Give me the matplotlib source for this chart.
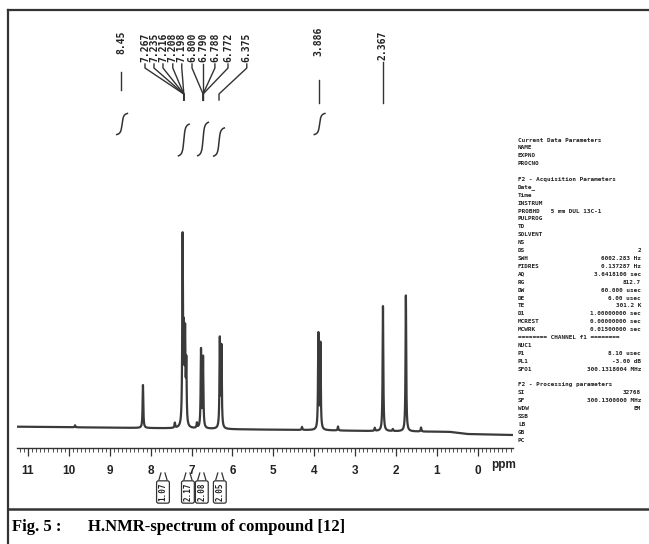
import numpy as np
import matplotlib
matplotlib.use("Agg")
import matplotlib.pyplot as plt
from matplotlib.lines import Line2D

W, H = 649, 544

# peaks: position on the printed ppm axis, height above baseline
peak_ppm = [9.85, 8.19, 7.41, 7.22, 7.19, 7.16, 7.13, 6.87, 6.77, 6.72,
            6.31, 6.27, 4.30, 3.90, 3.85, 3.42, 2.52, 2.32, 2.08, 1.76, 1.39]
peak_height = [2, 43, 5, 185, 82, 86, 60, 5, 78, 70,
               88, 80, 3, 95, 85, 4, 3, 125, 2, 136, 4]

# slow baseline drift of the scan
base_ppm = [11.27, 8.2, 6.0, 4.3, 2.7, 1.1, 0.7, 0.27, -0.86]
base_level = [1.3, 0, -1.3, -2, -3, -3.7, -3.8, -6, -7]

ppm_ticks = [11, 10, 9, 8, 7, 6, 5, 4, 3, 2, 1, 0]

# peak picking labels
shift_labels = ['7.267', '7.235', '7.216', '7.208', '7.198',
                '6.800', '6.790', '6.788', '6.772', '6.375']
shift_text_ppm = [8.14, 7.92, 7.70, 7.46, 7.24, 6.99, 6.72, 6.43, 6.11, 5.65]
shift_group = [0, 0, 0, 0, 0, 1, 1, 1, 1, 2]
group_ppm = [7.19, 6.72, 6.33]

single_labels = ['8.45', '3.886', '2.367']
single_ppm = [8.72, 3.89, 2.32]

# integrals (drawn position, height of the step)
integral_ppm = [8.70, 7.19, 6.72, 6.33, 3.87]
integral_size = [24, 36, 38, 32, 24]
integral_values = ['1.07', '2.17', '2.08', '2.05']
integral_value_ppm = [7.70, 7.09, 6.75, 6.31]

params = [
    ("Current Data Parameters", ""), ("NAME", ""), ("EXPNO", ""), ("PROCNO", ""),
    ("", ""), ("F2 - Acquisition Parameters", ""), ("Date_", ""), ("Time", ""),
    ("INSTRUM", ""), ("PROBHD   5 mm DUL 13C-1", ""), ("PULPROG", ""), ("TD", ""),
    ("SOLVENT", ""), ("NS", ""), ("DS", "2"), ("SWH", "6002.283 Hz"),
    ("FIDRES", "0.137287 Hz"), ("AQ", "3.6418100 sec"), ("RG", "812.7"),
    ("DW", "60.000 usec"), ("DE", "6.00 usec"), ("TE", "301.2 K"),
    ("D1", "1.00000000 sec"), ("MCREST", "0.00000000 sec"),
    ("MCWRK", "0.01500000 sec"), ("======== CHANNEL f1 ========", ""),
    ("NUC1", ""), ("P1", "8.10 usec"), ("PL1", "-3.00 dB"),
    ("SFO1", "300.1318004 MHz"), ("", ""), ("F2 - Processing parameters", ""),
    ("SI", "32768"), ("SF", "300.1300000 MHz"), ("WDW", "EM"), ("SSB", ""),
    ("LB", ""), ("GB", ""), ("PC", ""),
]

ink = '#333333'
fig = plt.figure(figsize=(W / 100, H / 100), dpi=100)
fig.patch.set_facecolor('white')

# frame lines of the scanned page
fig.add_artist(Line2D([8 / W, 8 / W], [0, 1 - 10 / H], color=ink, lw=1.6))
fig.add_artist(Line2D([8 / W, 1], [1 - 10 / H, 1 - 10 / H], color=ink, lw=1.6))
fig.add_artist(Line2D([8 / W, 1], [1 - 509 / H, 1 - 509 / H], color=ink, lw=1.8))

ax = fig.add_axes([17 / W, (H - 448) / H, 496 / W, (448 - 12) / H])
ax.set_xlim(11.27, -0.86)
ax.set_ylim(-20, 416)
for s in ['top', 'right', 'left']:
    ax.spines[s].set_visible(False)
ax.spines['bottom'].set_color(ink)
ax.spines['bottom'].set_linewidth(1.0)
ax.set_yticks([])

# spectrum
x = np.linspace(11.27, -0.86, 14000)
y = np.interp(x, base_ppm[::-1], base_level[::-1])
w = 0.01
for c, h in zip(peak_ppm, peak_height):
    y = y + h * w ** 2 / ((x - c) ** 2 + w ** 2)
ax.plot(x, y, color='#3a3a3a', lw=1.6)

# ruler
ax.set_xticks(ppm_ticks, labels=[str(t) for t in ppm_ticks])
ax.set_xticks(np.arange(-0.8, 11.25, 0.1), minor=True)
ax.tick_params(axis='x', which='major', length=6, width=0.9, color=ink,
               direction='out', pad=6, labelsize=8.5)
ax.tick_params(axis='x', which='minor', length=3, width=0.6, color=ink, direction='out')
for lab in ax.get_xticklabels():
    lab.set_fontweight('bold')
    lab.set_family('Liberation Sans')
    lab.set_color('#222222')
ax.text(-0.62, -37, 'ppm', ha='center', va='center', fontsize=8.5,
        fontweight='bold', family='Liberation Sans', color='#222222', clip_on=False)

# peak labels
lab_kw = dict(rotation=90, ha='center', va='bottom', fontsize=7,
              family='DejaVu Sans Mono', fontweight='bold', color='#222222')
for t, p, g in zip(shift_labels, shift_text_ppm, shift_group):
    ax.text(p, 366, t, **lab_kw)
    jp = group_ppm[g]
    ax.plot([p, p, jp, jp], [364, 360, 334, 328], color=ink, lw=1.0)

ax.text(single_ppm[0], 374, single_labels[0], **lab_kw)
ax.plot([single_ppm[0]] * 2, [356, 338], color=ink, lw=1.0)
ax.text(single_ppm[1], 372, single_labels[1], **lab_kw)
ax.plot([single_ppm[1]] * 2, [348, 325], color=ink, lw=1.0)
ax.text(single_ppm[2], 368, single_labels[2], **lab_kw)
ax.plot([single_ppm[2]] * 2, [366, 325], color=ink, lw=1.0)

# integral curves
for c, s, base in zip(integral_ppm, integral_size, [292, 270, 270, 270, 292]):
    xi = np.linspace(c + 0.13, c - 0.13, 200)
    yi = base + s * (0.5 - np.arctan((xi - c) / 0.025) / np.pi)
    ax.plot(xi, yi, color=ink, lw=1.1)

# integral value boxes under the axis
for v, p in zip(integral_values, integral_value_ppm):
    ax.text(p, -64, v, rotation=90, ha='center', va='center', fontsize=5.5,
            family='DejaVu Sans Mono', fontweight='bold', color='#222222', clip_on=False,
            bbox=dict(boxstyle='round,pad=0.25', fc='white', ec=ink, lw=0.9))
    ax.plot([p + 0.1, p + 0.05], [-52, -45], color=ink, lw=0.9, clip_on=False)
    ax.plot([p - 0.1, p - 0.05], [-52, -45], color=ink, lw=0.9, clip_on=False)

# acquisition parameter block
for i, (k, v) in enumerate(params):
    yy = 1 - (140 + i * 7.9) / H
    fig.text(518 / W, yy, k, fontsize=4.3, family='DejaVu Sans Mono',
             fontweight='bold', color='#222222', va='center')
    if v:
        fig.text(641 / W, yy, v, fontsize=4.3, family='DejaVu Sans Mono',
                 fontweight='bold', color='#222222', va='center', ha='right')

# caption
fig.text(12 / W, 1 - 527 / H, 'Fig. 5 :', fontsize=12, fontweight='bold',
         family='Liberation Serif', va='center')
fig.text(88 / W, 1 - 527 / H, 'H.NMR-spectrum of compound [12]', fontsize=12,
         fontweight='bold', family='Liberation Serif', va='center')

fig.savefig('out.png', dpi=100)
